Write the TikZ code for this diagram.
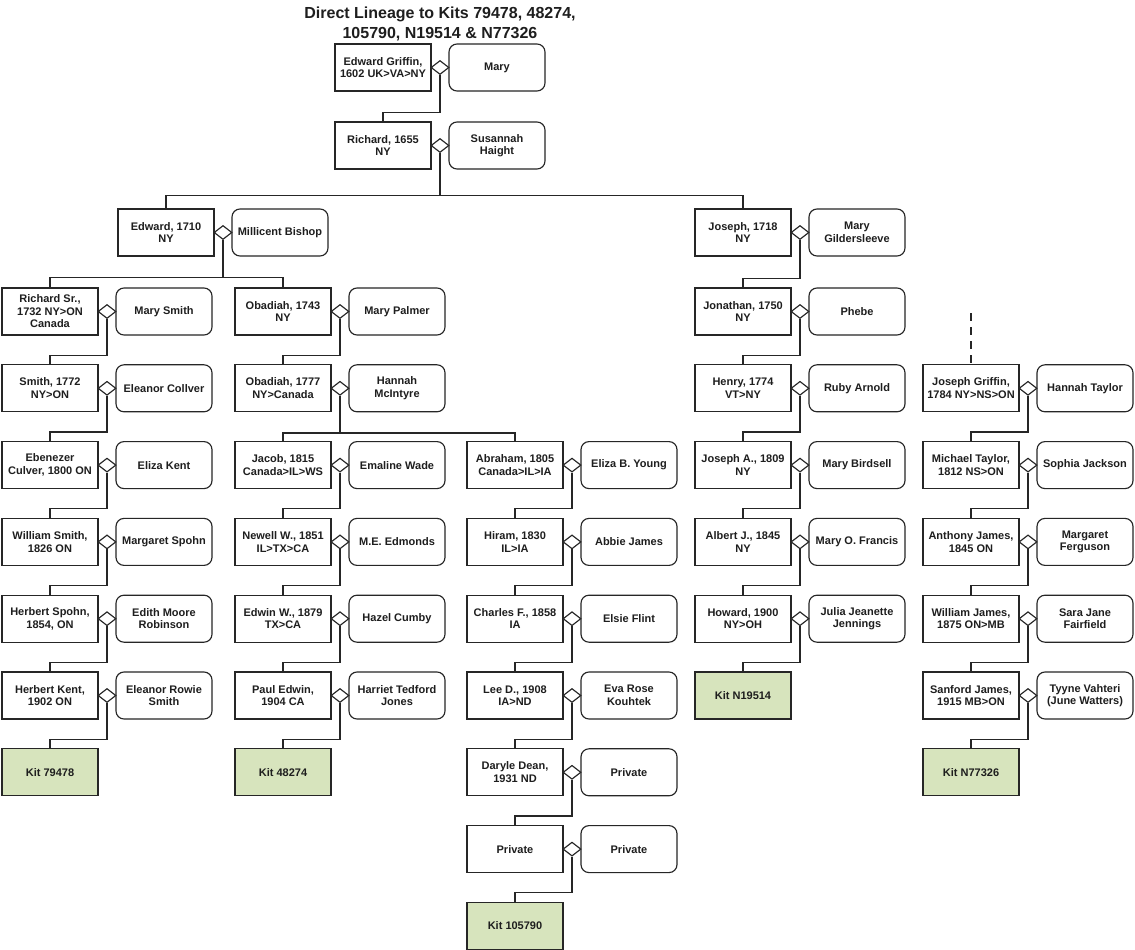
\documentclass[tikz,border=0pt]{standalone}
\usepackage{fontspec}
\setmainfont{Liberation Sans}
\usetikzlibrary{shapes.geometric,calc}
\definecolor{kitgreen}{HTML}{D7E4BD}
\definecolor{ink}{HTML}{1E1E1E}
\definecolor{linec}{HTML}{262626}
\newcommand\fampair[5]{%
  \node[person] (#1) at (#2,#3) {#4};
  \node[spouse] (#1s) at ({#2+114},#3) {#5};
  \node[marr] (#1m) at ({#2+57},#3) {};
}
\newcommand\famlink[2]{\draw[conn] (#1.south) |- ([yshift=9pt]#2.north) -- (#2.north);}
\begin{document}
\begin{tikzpicture}[x=1pt,y=-1pt,
  box/.style={draw=linec, line width=1.15pt, minimum width=96pt, minimum height=47pt,
    inner sep=2pt, align=center, font=\fontsize{11}{12.5}\selectfont\bfseries, text=ink},
  person/.style={box},
  spouse/.style={box, rounded corners=8pt},
  kit/.style={box, fill=kitgreen},
  marr/.style={diamond, draw=linec, line width=1.15pt, fill=white, minimum width=18pt,
    minimum height=14pt, inner sep=0pt},
  conn/.style={draw=linec, line width=1.15pt},
  title/.style={align=center, inner sep=0pt, text=ink, font=\fontsize{16}{20}\selectfont\bfseries}
]
\useasboundingbox[fill=white] (0,0) rectangle (1135,950);

\node[title, anchor=north] (title) at (440,6.5) {Direct Lineage to Kits 79478, 48274,\\105790, N19514 \& N77326};

% rows: 67.5 145.5 232.5 311.5 388.3 465.1 541.9 618.7 695.5 772.3 849.1 925.9
% cols: T 383, E 166, A 50, B 283, C 515, D 743, F 971
\fampair{t0}{383}{67.5}{Edward Griffin,\\1602 UK>VA>NY}{Mary}
\fampair{t1}{383}{145.5}{Richard, 1655\\NY}{Susannah\\Haight}

\fampair{e2}{166}{232.5}{Edward, 1710\\NY}{Millicent Bishop}
\fampair{d2}{743}{232.5}{Joseph, 1718\\NY}{Mary\\Gildersleeve}

\fampair{a3}{50}{311.5}{Richard Sr.,\\1732 NY>ON\\Canada}{Mary Smith}
\fampair{b3}{283}{311.5}{Obadiah, 1743\\NY}{Mary Palmer}
\fampair{d3}{743}{311.5}{Jonathan, 1750\\NY}{Phebe}

\fampair{a4}{50}{388.3}{Smith, 1772\\NY>ON}{Eleanor Collver}
\fampair{b4}{283}{388.3}{Obadiah, 1777\\NY>Canada}{Hannah\\McIntyre}
\fampair{d4}{743}{388.3}{Henry, 1774\\VT>NY}{Ruby Arnold}
\fampair{f4}{971}{388.3}{Joseph Griffin,\\1784 NY>NS>ON}{Hannah Taylor}

\fampair{a5}{50}{465.1}{Ebenezer\\Culver, 1800 ON}{Eliza Kent}
\fampair{b5}{283}{465.1}{Jacob, 1815\\Canada>IL>WS}{Emaline Wade}
\fampair{c5}{515}{465.1}{Abraham, 1805\\Canada>IL>IA}{Eliza B. Young}
\fampair{d5}{743}{465.1}{Joseph A., 1809\\NY}{Mary Birdsell}
\fampair{f5}{971}{465.1}{Michael Taylor,\\1812 NS>ON}{Sophia Jackson}

\fampair{a6}{50}{541.9}{William Smith,\\1826 ON}{Margaret Spohn}
\fampair{b6}{283}{541.9}{Newell W., 1851\\IL>TX>CA}{M.E. Edmonds}
\fampair{c6}{515}{541.9}{Hiram, 1830\\IL>IA}{Abbie James}
\fampair{d6}{743}{541.9}{Albert J., 1845\\NY}{Mary O. Francis}
\fampair{f6}{971}{541.9}{Anthony James,\\1845 ON}{Margaret\\Ferguson}

\fampair{a7}{50}{618.7}{Herbert Spohn,\\1854, ON}{Edith Moore\\Robinson}
\fampair{b7}{283}{618.7}{Edwin W., 1879\\TX>CA}{Hazel Cumby}
\fampair{c7}{515}{618.7}{Charles F., 1858\\IA}{Elsie Flint}
\fampair{d7}{743}{618.7}{Howard, 1900\\NY>OH}{Julia Jeanette\\Jennings}
\fampair{f7}{971}{618.7}{William James,\\1875 ON>MB}{Sara Jane\\Fairfield}

\fampair{a8}{50}{695.5}{Herbert Kent,\\1902 ON}{Eleanor Rowie\\Smith}
\fampair{b8}{283}{695.5}{Paul Edwin,\\1904 CA}{Harriet Tedford\\Jones}
\fampair{c8}{515}{695.5}{Lee D., 1908\\IA>ND}{Eva Rose\\Kouhtek}
\node[kit] (d8) at (743,695.5) {Kit N19514};
\fampair{f8}{971}{695.5}{Sanford James,\\1915 MB>ON}{Tyyne Vahteri\\(June Watters)}

\node[kit] (a9) at (50,772.3) {Kit 79478};
\node[kit] (b9) at (283,772.3) {Kit 48274};
\fampair{c9}{515}{772.3}{Daryle Dean,\\1931 ND}{Private}
\node[kit] (f9) at (971,772.3) {Kit N77326};

\fampair{c10}{515}{849.1}{Private}{Private}
\node[kit] (c11) at (515,925.9) {Kit 105790};

% connectors
\famlink{t0m}{t1}
\path (e2.north) ++(0,13pt) coordinate (bar2);
\draw[conn] (e2.north) -- (e2.north |- bar2) -- (d2.north |- bar2) -- (d2.north);
\draw[conn] (t1m.south) -- (t1m.south |- bar2);

\path (a3.north) ++(0,10pt) coordinate (bar3);
\draw[conn] (a3.north) -- (a3.north |- bar3) -- (b3.north |- bar3) -- (b3.north);
\draw[conn] (e2m.south) -- (e2m.south |- bar3);

\path (b5.north) ++(0,8pt) coordinate (bar5);
\draw[conn] (b5.north) -- (b5.north |- bar5) -- (c5.north |- bar5) -- (c5.north);
\draw[conn] (b4m.south) -- (b4m.south |- bar5);

\famlink{d2m}{d3}
\famlink{a3m}{a4}
\famlink{b3m}{b4}
\famlink{d3m}{d4}
\famlink{a4m}{a5}
\famlink{d4m}{d5}
\famlink{f4m}{f5}
\famlink{a5m}{a6}
\famlink{b5m}{b6}
\famlink{c5m}{c6}
\famlink{d5m}{d6}
\famlink{f5m}{f6}
\famlink{a6m}{a7}
\famlink{b6m}{b7}
\famlink{c6m}{c7}
\famlink{d6m}{d7}
\famlink{f6m}{f7}
\famlink{a7m}{a8}
\famlink{b7m}{b8}
\famlink{c7m}{c8}
\famlink{d7m}{d8}
\famlink{f7m}{f8}
\famlink{a8m}{a9}
\famlink{b8m}{b9}
\famlink{c8m}{c9}
\famlink{f8m}{f9}
\famlink{c9m}{c10}
\famlink{c10m}{c11}

\coordinate (fdash) at (971,313);
\draw[conn, dash pattern=on 8pt off 6pt] (fdash) -- (f4.north);
\end{tikzpicture}
\end{document}
